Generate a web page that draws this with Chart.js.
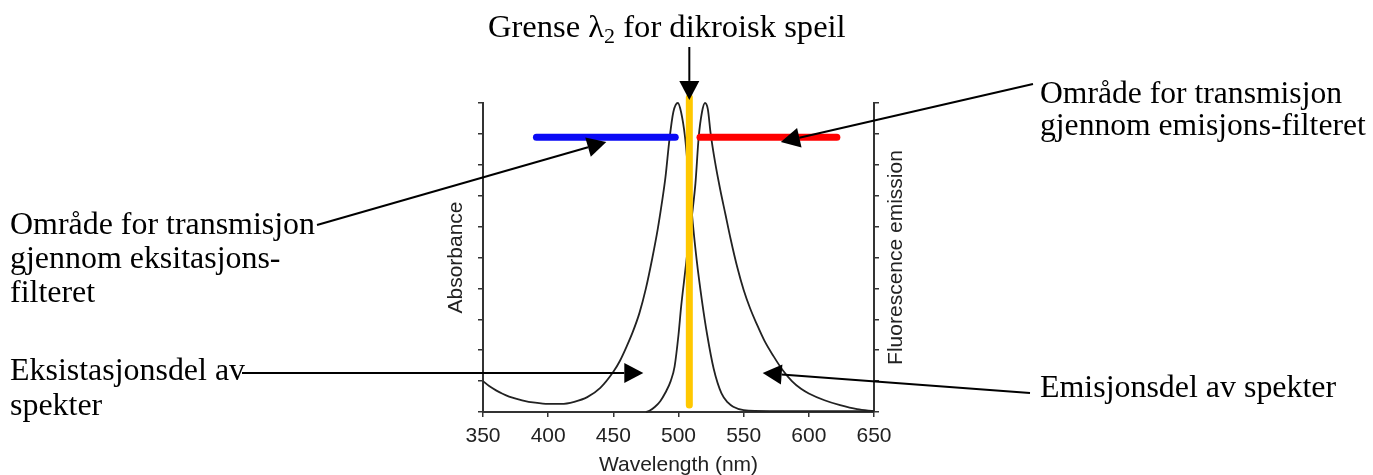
<!DOCTYPE html>
<html>
<head>
<meta charset="utf-8">
<script src="https://cdn.jsdelivr.net/npm/chart.js@4.4.0/dist/chart.umd.min.js"></script>
<style>
  html, body { margin: 0; padding: 0; background: #fff; }
  canvas { display: block; }
</style>
</head>
<body>
<canvas id="spectrumChart" width="1373" height="475"></canvas>
<script>
// excitation (absorbance) spectrum, nm / relative units
const absWavelengths = [350, 355, 360, 365, 370, 380, 390, 400, 410, 420, 430, 440, 450, 455, 460, 465, 470, 475, 480, 484, 487, 490, 493, 496, 499.5, 502, 505, 508, 511, 514, 518, 522, 527, 533, 538, 542, 550, 570, 600, 650];
const absValues = [10, 8.3, 7, 5.9, 5, 3.8, 3, 2.6, 2.6, 3.3, 4.8, 7.8, 13, 16.5, 21, 26, 32, 40, 50, 59, 67, 76, 88, 97, 100, 97, 89, 75, 61, 49, 36, 25, 14, 6, 3, 1.7, 0.6, 0.3, 0.3, 0.3];

// emission spectrum
const emWavelengths = [475, 478, 482, 486, 490, 494, 497, 500, 502, 505, 508, 511, 513, 515.5, 518, 520.3, 522.5, 524.7, 528, 532, 536, 540, 545, 550, 555, 560, 566, 573, 580, 587, 594, 600, 612, 624, 637, 650];
const emValues = [0, 0.5, 1.7, 3.5, 6.3, 10, 14.7, 25, 34, 45, 56, 66, 74, 89, 97, 100, 98, 90, 81, 72, 64, 56, 47, 39.5, 33.5, 28.5, 23, 18, 13.5, 10, 7.5, 6, 3.8, 2.2, 0.9, 0.3];

// filter pass bands and dichroic mirror edge
const excitationBand = [391, 497.5];
const emissionBand = [516.5, 621.5];
const bandLevel = [88.9, 88.9];
const dichroicEdge = [508.3, 508.3];
const dichroicSpan = [2.3, 101.8];

const xTicks = [350, 400, 450, 500, 550, 600, 650];

const toPoints = (xs, ys) => xs.map((v, i) => ({ x: v, y: ys[i] }));

const sansFont = "'Liberation Sans', Arial, sans-serif";
const serifFont = "'Liberation Serif', 'Times New Roman', serif";

function serifText(ctx, str, x, y, stretch = 1.03) {
  ctx.save();
  ctx.translate(x, y);
  ctx.scale(stretch, 1);
  ctx.fillText(str, 0, 0);
  ctx.restore();
  return ctx.measureText(str).width * stretch;
}

function arrow(ctx, x1, y1, x2, y2) {
  const ang = Math.atan2(y2 - y1, x2 - x1);
  const len = 19, half = 10;
  const bx = x2 - len * Math.cos(ang);
  const by = y2 - len * Math.sin(ang);
  ctx.beginPath();
  ctx.moveTo(x1, y1);
  ctx.lineTo(bx, by);
  ctx.stroke();
  ctx.beginPath();
  ctx.moveTo(x2, y2);
  ctx.lineTo(bx + half * Math.sin(ang), by - half * Math.cos(ang));
  ctx.lineTo(bx - half * Math.sin(ang), by + half * Math.cos(ang));
  ctx.closePath();
  ctx.fill();
}

// text labels and arrows around the plot
const annotations = {
  id: 'annotations',
  afterDraw(chart) {
    const { ctx, scales: { x, y } } = chart;
    ctx.save();
    ctx.fillStyle = '#000';
    ctx.strokeStyle = '#000';
    ctx.lineWidth = 2;
    ctx.textBaseline = 'alphabetic';
    ctx.textAlign = 'left';

    // title with lambda_2
    ctx.font = '31px ' + serifFont;
    let tx = 488;
    tx += serifText(ctx, 'Grense ', tx, 37, 1.05);
    tx += serifText(ctx, '\u03bb', tx, 37, 1.05);
    ctx.font = '21px ' + serifFont;
    tx += serifText(ctx, '2', tx, 43, 1.05);
    ctx.font = '31px ' + serifFont;
    serifText(ctx, ' for dikroisk speil', tx, 37, 1.05);
    arrow(ctx, x.getPixelForValue(dichroicEdge[0]), 47, x.getPixelForValue(dichroicEdge[0]), y.getPixelForValue(101));

    // excitation filter
    serifText(ctx, 'Område for transmisjon', 10, 234);
    serifText(ctx, 'gjennom eksitasjons-', 10, 268);
    serifText(ctx, 'filteret', 10, 302);
    arrow(ctx, 317, 225, x.getPixelForValue(444.6), y.getPixelForValue(87.4));

    // emission filter
    serifText(ctx, 'Område for transmisjon', 1040, 103, 1.02);
    serifText(ctx, 'gjennom emisjons-filteret', 1040, 135, 1.02);
    arrow(ctx, 1033, 84, x.getPixelForValue(578.5), y.getPixelForValue(87.4));

    // excitation part
    serifText(ctx, 'Eksistasjonsdel av', 10, 380);
    serifText(ctx, 'spekter', 10, 415);
    arrow(ctx, 242, 373, x.getPixelForValue(473), y.getPixelForValue(12.6));

    // emission part
    serifText(ctx, 'Emisjonsdel av spekter', 1040, 397);
    arrow(ctx, 1030, 393, x.getPixelForValue(564.6), y.getPixelForValue(12.6));

    // right axis title, reading bottom to top
    ctx.font = '21px ' + sansFont;
    ctx.fillStyle = '#222';
    ctx.textAlign = 'center';
    ctx.textBaseline = 'middle';
    ctx.translate(896, (chart.chartArea.top + chart.chartArea.bottom) / 2);
    ctx.rotate(-Math.PI / 2);
    ctx.fillText('Fluorescence emission', 0, 0);
    ctx.restore();
  }
};

const axisColor = '#333';
const tickGrid = {
  drawOnChartArea: false,
  drawTicks: true,
  tickLength: 5,
  color: axisColor,
  lineWidth: 1.5
};

new Chart(document.getElementById('spectrumChart'), {
  type: 'line',
  data: {
    datasets: [
      {
        data: toPoints(dichroicEdge, dichroicSpan),
        borderColor: '#FFC800',
        borderWidth: 7,
        borderCapStyle: 'round',
        pointRadius: 0,
        clip: false,
        order: 0
      },
      {
        data: toPoints(excitationBand, bandLevel),
        borderColor: '#0A0AF5',
        borderWidth: 7,
        borderCapStyle: 'round',
        pointRadius: 0,
        order: 1
      },
      {
        data: toPoints(emissionBand, bandLevel),
        borderColor: '#FF0000',
        borderWidth: 7,
        borderCapStyle: 'round',
        pointRadius: 0,
        order: 1
      },
      {
        data: toPoints(absWavelengths, absValues),
        borderColor: '#222',
        borderWidth: 1.8,
        cubicInterpolationMode: 'monotone',
        pointRadius: 0,
        clip: false,
        order: 2
      },
      {
        data: toPoints(emWavelengths, emValues),
        borderColor: '#222',
        borderWidth: 1.8,
        cubicInterpolationMode: 'monotone',
        pointRadius: 0,
        clip: false,
        order: 2
      }
    ]
  },
  options: {
    responsive: false,
    animation: false,
    devicePixelRatio: 1,
    layout: {
      padding: { left: 445.5, right: 479, top: 103, bottom: 0 }
    },
    plugins: {
      legend: { display: false },
      tooltip: { enabled: false }
    },
    scales: {
      x: {
        type: 'linear',
        min: 350,
        max: 650,
        afterBuildTicks: (scale) => { scale.ticks = xTicks.map(v => ({ value: v })); },
        afterFit: (scale) => { scale.height = 63; },
        grid: tickGrid,
        border: { display: true, color: axisColor, width: 2 },
        ticks: {
          color: '#222',
          font: { family: sansFont, size: 21 },
          padding: 7,
          maxRotation: 0
        },
        title: {
          display: true,
          text: 'Wavelength (nm)',
          color: '#222',
          font: { family: sansFont, size: 21, lineHeight: 0.9 },
          padding: 0
        }
      },
      y: {
        position: 'left',
        min: 0,
        max: 100,
        ticks: { display: false, stepSize: 10 },
        afterFit: (scale) => { scale.width = 37.5; },
        grid: tickGrid,
        border: { display: true, color: axisColor, width: 2 },
        title: {
          display: true,
          text: 'Absorbance',
          color: '#222',
          font: { family: sansFont, size: 21, lineHeight: 1 },
          padding: 0
        }
      },
      y2: {
        position: 'right',
        min: 0,
        max: 100,
        ticks: { display: false, stepSize: 10 },
        afterFit: (scale) => { scale.width = 20; },
        grid: tickGrid,
        border: { display: true, color: axisColor, width: 2 }
      }
    }
  },
  plugins: [annotations]
});
</script>
</body>
</html>
